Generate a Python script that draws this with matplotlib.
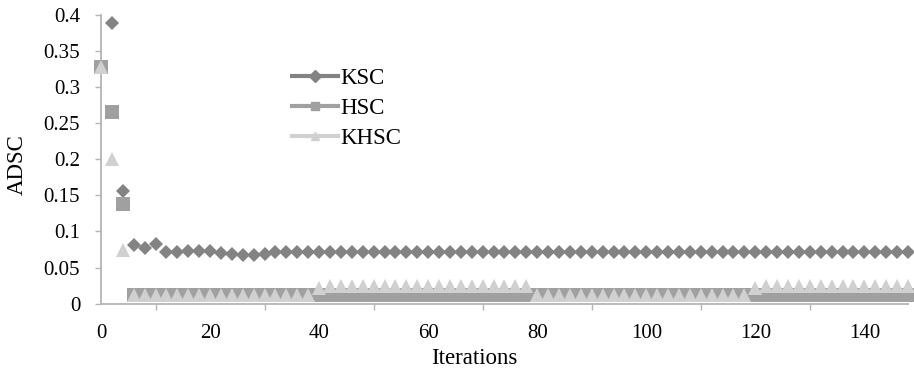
import matplotlib
matplotlib.use("Agg")
import matplotlib.pyplot as plt
from matplotlib.lines import Line2D

plt.rcParams["font.family"] = ["Liberation Serif", "DejaVu Serif"]

# Iteration index (sampled every 2 iterations)
iterations = list(range(0, 149, 2))

ksc = [0.328, 0.389, 0.156, 0.081, 0.077, 0.082, 0.071, 0.071,
       0.073, 0.073, 0.073, 0.070, 0.069, 0.068, 0.068, 0.069,
       0.071, 0.071, 0.071, 0.071, 0.071, 0.071, 0.071, 0.071,
       0.071, 0.071, 0.071, 0.071, 0.071, 0.071, 0.071, 0.071,
       0.071, 0.071, 0.071, 0.071, 0.071, 0.071, 0.071, 0.071,
       0.071, 0.071, 0.071, 0.071, 0.071, 0.071, 0.071, 0.071,
       0.071, 0.071, 0.071, 0.071, 0.071, 0.071, 0.071, 0.071,
       0.071, 0.071, 0.071, 0.071, 0.071, 0.071, 0.071, 0.071,
       0.071, 0.071, 0.071, 0.071, 0.071, 0.071, 0.071, 0.071,
       0.071, 0.071, 0.071]

hsc = [0.328, 0.265, 0.138, 0.0115, 0.0115, 0.0115, 0.0115, 0.0115,
       0.0115, 0.0115, 0.0115, 0.0115, 0.0115, 0.0115, 0.0115, 0.0115,
       0.0115, 0.0115, 0.0115, 0.0115, 0.0115, 0.0115, 0.0115, 0.0115,
       0.0115, 0.0115, 0.0115, 0.0115, 0.0115, 0.0115, 0.0115, 0.0115,
       0.0115, 0.0115, 0.0115, 0.0115, 0.0115, 0.0115, 0.0115, 0.0115,
       0.0115, 0.0115, 0.0115, 0.0115, 0.0115, 0.0115, 0.0115, 0.0115,
       0.0115, 0.0115, 0.0115, 0.0115, 0.0115, 0.0115, 0.0115, 0.0115,
       0.0115, 0.0115, 0.0115, 0.0115, 0.0115, 0.0115, 0.0115, 0.0115,
       0.0115, 0.0115, 0.0115, 0.0115, 0.0115, 0.0115, 0.0115, 0.0115,
       0.0115, 0.0115, 0.0115]

khsc = [0.328, 0.200, 0.074,
        # iterations 6-38
        0.0115, 0.0115, 0.0115, 0.0115, 0.0115, 0.0115, 0.0115, 0.0115,
        0.0115, 0.0115, 0.0115, 0.0115, 0.0115, 0.0115, 0.0115, 0.0115,
        0.0115,
        # iterations 40-78
        0.022, 0.025, 0.025, 0.025, 0.025, 0.025, 0.025, 0.025, 0.025,
        0.025, 0.025, 0.025, 0.025, 0.025, 0.025, 0.025, 0.025, 0.025,
        0.025, 0.025,
        # iterations 80-118
        0.0115, 0.0115, 0.0115, 0.0115, 0.0115, 0.0115, 0.0115, 0.0115,
        0.0115, 0.0115, 0.0115, 0.0115, 0.0115, 0.0115, 0.0115, 0.0115,
        0.0115, 0.0115, 0.0115, 0.0115,
        # iterations 120-148
        0.022, 0.025, 0.025, 0.025, 0.025, 0.025, 0.025, 0.025, 0.025,
        0.025, 0.025, 0.025, 0.025, 0.025, 0.025]

series_names = ["KSC", "HSC", "KHSC"]
colors = ["#838383", "#a0a0a0", "#d0d0d0"]
markers = ["D", "s", "^"]
sizes = [7.4, 9.4, 9.8]

fig = plt.figure(figsize=(9.14, 3.73), dpi=100)
ax = fig.add_axes([0.1105, 0.186, 0.8829, 0.7738])

for i, (vals, c, m, s) in enumerate(zip([ksc, hsc, khsc], colors, markers, sizes)):
    ax.plot(iterations, vals, linestyle="none", marker=m, markersize=s,
            markerfacecolor=c, markeredgecolor=c, markeredgewidth=0,
            clip_on=False, zorder=3 + i)

ax.set_xlim(0, 148)
ax.set_ylim(0, 0.4)

ax.set_yticks([0, 0.05, 0.1, 0.15, 0.2, 0.25, 0.3, 0.35, 0.4])
ax.set_yticklabels(["0", "0.05", "0.1", "0.15", "0.2", "0.25", "0.3", "0.35", "0.4"])
ax.set_xticks(list(range(0, 141, 20)))
ax.set_xticks(list(range(10, 141, 20)), minor=True)

axis_gray = "#b4b4b4"
for side in ["top", "right"]:
    ax.spines[side].set_visible(False)
for side in ["left", "bottom"]:
    ax.spines[side].set_color(axis_gray)
    ax.spines[side].set_linewidth(1.3)

ax.tick_params(axis="y", direction="out", length=4.5, width=1.0,
               color=axis_gray, labelsize=15, pad=10.5)
ax.tick_params(axis="x", which="major", length=0, labelsize=15, pad=15)
ax.tick_params(axis="x", which="minor", direction="out", length=4,
               width=1.0, color=axis_gray)

ax.set_ylabel("ADSC", fontsize=16.5)
ax.yaxis.set_label_coords(-0.091, 0.48)
ax.set_xlabel("Iterations", fontsize=16.5)
ax.xaxis.set_label_coords(0.463, -0.19)
ax.xaxis.label.set_verticalalignment("center")

handles = [Line2D([0], [0], color=c, lw=3, marker=m, markersize=6,
                  markerfacecolor=c, markeredgecolor=c)
           for c, m in zip(colors, markers)]
fig.legend(handles, series_names, loc="upper left",
           bbox_to_anchor=(292 / 914, 1 - 68 / 373), frameon=False,
           fontsize=16.5, handlelength=2.0, handletextpad=0.12,
           labelspacing=0.38, borderpad=0, borderaxespad=0)

fig.savefig("out.png", dpi=100)
